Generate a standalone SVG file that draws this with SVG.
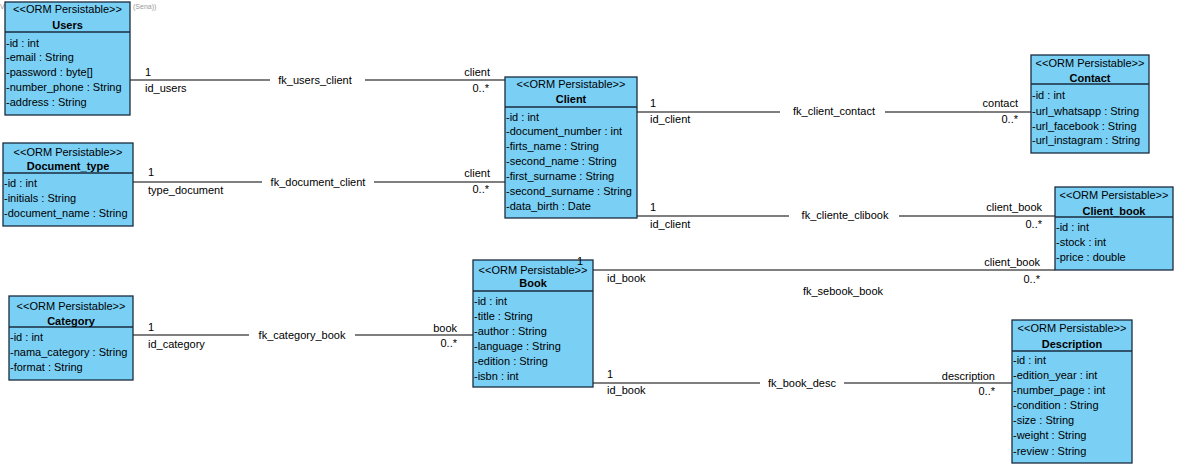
<svg xmlns="http://www.w3.org/2000/svg" width="1177" height="467" viewBox="0 0 1177 467">
<style>
text{font-family:"Liberation Sans",Arial,sans-serif;font-size:11px;fill:#000}
.box{fill:#7acff5;stroke:#1b2c40;stroke-width:1.3}
.div{stroke:#1b2c40;stroke-width:1.3}
.st{text-anchor:middle}
.nm{text-anchor:middle;font-weight:bold}
.ln{stroke:#000;stroke-width:1.2;fill:none}
.e{text-anchor:end}
.m{text-anchor:middle}
.wm{font-size:7px;fill:#9a9a9a}
</style>
<rect width="1177" height="467" fill="#fff"/>
<text class="wm" x="0" y="9">Vi</text>
<text class="wm" x="133" y="9">(Sena))</text>

<g id="connectors">
  <path class="ln" d="M130 80H270M365 80H505"/>
  <text x="145" y="76">1</text><text x="145" y="92">id_users</text>
  <text class="m" x="315" y="84">fk_users_client</text>
  <text class="e" x="490" y="76">client</text><text class="e" x="489" y="92">0..*</text>

  <path class="ln" d="M133 182H262M374 182H505"/>
  <text x="148" y="176">1</text><text x="148" y="194">type_document</text>
  <text class="m" x="318" y="186">fk_document_client</text>
  <text class="e" x="490" y="177">client</text><text class="e" x="489" y="193">0..*</text>

  <path class="ln" d="M133 335H249M355 335H473"/>
  <text x="148" y="331">1</text><text x="148" y="348">id_category</text>
  <text class="m" x="302" y="339">fk_category_book</text>
  <text class="e" x="457" y="332">book</text><text class="e" x="457" y="347">0..*</text>

  <path class="ln" d="M637 112H780M885 112H1031"/>
  <text x="650" y="107">1</text><text x="650" y="123">id_client</text>
  <text class="m" x="834" y="115">fk_client_contact</text>
  <text class="e" x="1018" y="107">contact</text><text class="e" x="1018" y="123">0..*</text>

  <path class="ln" d="M637 216H789M899 216H1055"/>
  <text x="650" y="211">1</text><text x="650" y="228">id_client</text>
  <text class="m" x="845" y="219">fk_cliente_clibook</text>
  <text class="e" x="1042" y="211">client_book</text><text class="e" x="1042" y="228">0..*</text>

  <path class="ln" d="M593 270H1055"/>
  <text x="607" y="282">id_book</text>
  <text class="m" x="843" y="295">fk_sebook_book</text>
  <text class="e" x="1040" y="266">client_book</text><text class="e" x="1040" y="283">0..*</text>

  <path class="ln" d="M593 383H760M844 383H1012"/>
  <text x="607" y="378">1</text><text x="607" y="394">id_book</text>
  <text class="m" x="802" y="387">fk_book_desc</text>
  <text class="e" x="995" y="380">description</text><text class="e" x="995" y="395">0..*</text>
</g>

<g id="Users">
  <rect class="box" x="5" y="2" width="125" height="113"/>
  <line class="div" x1="5" y1="32" x2="130" y2="32"/>
  <text class="st" x="67.5" y="13">&lt;&lt;ORM Persistable&gt;&gt;</text>
  <text class="nm" x="67.5" y="29">Users</text>
  <text x="6" y="47">-id : int</text>
  <text x="6" y="61">-email : String</text>
  <text x="6" y="76">-password : byte[]</text>
  <text x="6" y="91">-number_phone : String</text>
  <text x="6" y="106">-address : String</text>
</g>

<g id="Document_type">
  <rect class="box" x="3" y="143" width="130" height="83"/>
  <line class="div" x1="3" y1="173" x2="133" y2="173"/>
  <text class="st" x="68" y="156">&lt;&lt;ORM Persistable&gt;&gt;</text>
  <text class="nm" x="68" y="170">Document_type</text>
  <text x="4" y="187">-id : int</text>
  <text x="4" y="202">-initials : String</text>
  <text x="4" y="217">-document_name : String</text>
</g>

<g id="Category">
  <rect class="box" x="9" y="296" width="124" height="84"/>
  <line class="div" x1="9" y1="327" x2="133" y2="327"/>
  <text class="st" x="71" y="310">&lt;&lt;ORM Persistable&gt;&gt;</text>
  <text class="nm" x="71" y="325">Category</text>
  <text x="10" y="341">-id : int</text>
  <text x="10" y="356">-nama_category : String</text>
  <text x="10" y="371">-format : String</text>
</g>

<g id="Client">
  <rect class="box" x="505" y="77" width="132" height="141"/>
  <line class="div" x1="505" y1="107" x2="637" y2="107"/>
  <text class="st" x="571" y="88">&lt;&lt;ORM Persistable&gt;&gt;</text>
  <text class="nm" x="571" y="103">Client</text>
  <text x="506" y="121">-id : int</text>
  <text x="506" y="135">-document_number : int</text>
  <text x="506" y="150">-firts_name : String</text>
  <text x="506" y="165">-second_name : String</text>
  <text x="506" y="180">-first_surname : String</text>
  <text x="506" y="195">-second_surname : String</text>
  <text x="506" y="210">-data_birth : Date</text>
</g>

<g id="Book">
  <rect class="box" x="473" y="260" width="120" height="127"/>
  <line class="div" x1="473" y1="291" x2="593" y2="291"/>
  <text class="st" x="533" y="274">&lt;&lt;ORM Persistable&gt;&gt;</text>
  <text class="nm" x="533" y="287">Book</text>
  <text x="474" y="305">-id : int</text>
  <text x="474" y="320">-title : String</text>
  <text x="474" y="335">-author : String</text>
  <text x="474" y="350">-language : String</text>
  <text x="474" y="365">-edition : String</text>
  <text x="474" y="380">-isbn : int</text>
  <text x="577" y="265">1</text>
</g>

<g id="Contact">
  <rect class="box" x="1031" y="55" width="118" height="98"/>
  <line class="div" x1="1031" y1="84" x2="1149" y2="84"/>
  <text class="st" x="1090" y="67">&lt;&lt;ORM Persistable&gt;&gt;</text>
  <text class="nm" x="1090" y="82">Contact</text>
  <text x="1032" y="99">-id : int</text>
  <text x="1032" y="115">-url_whatsapp : String</text>
  <text x="1032" y="130">-url_facebook : String</text>
  <text x="1032" y="144">-url_instagram : String</text>
</g>

<g id="Client_book">
  <rect class="box" x="1055" y="187" width="118" height="83"/>
  <line class="div" x1="1055" y1="217" x2="1173" y2="217"/>
  <text class="st" x="1114" y="199">&lt;&lt;ORM Persistable&gt;&gt;</text>
  <text class="nm" x="1114" y="215">Client_book</text>
  <text x="1056" y="231">-id : int</text>
  <text x="1056" y="246">-stock : int</text>
  <text x="1056" y="261">-price : double</text>
</g>

<g id="Description">
  <rect class="box" x="1012" y="320" width="120" height="143"/>
  <line class="div" x1="1012" y1="351" x2="1132" y2="351"/>
  <text class="st" x="1072" y="332">&lt;&lt;ORM Persistable&gt;&gt;</text>
  <text class="nm" x="1072" y="348">Description</text>
  <text x="1013" y="364">-id : int</text>
  <text x="1013" y="379">-edition_year : int</text>
  <text x="1013" y="394">-number_page : int</text>
  <text x="1013" y="409">-condition : String</text>
  <text x="1013" y="424">-size : String</text>
  <text x="1013" y="439">-weight : String</text>
  <text x="1013" y="455">-review : String</text>
</g>
</svg>
